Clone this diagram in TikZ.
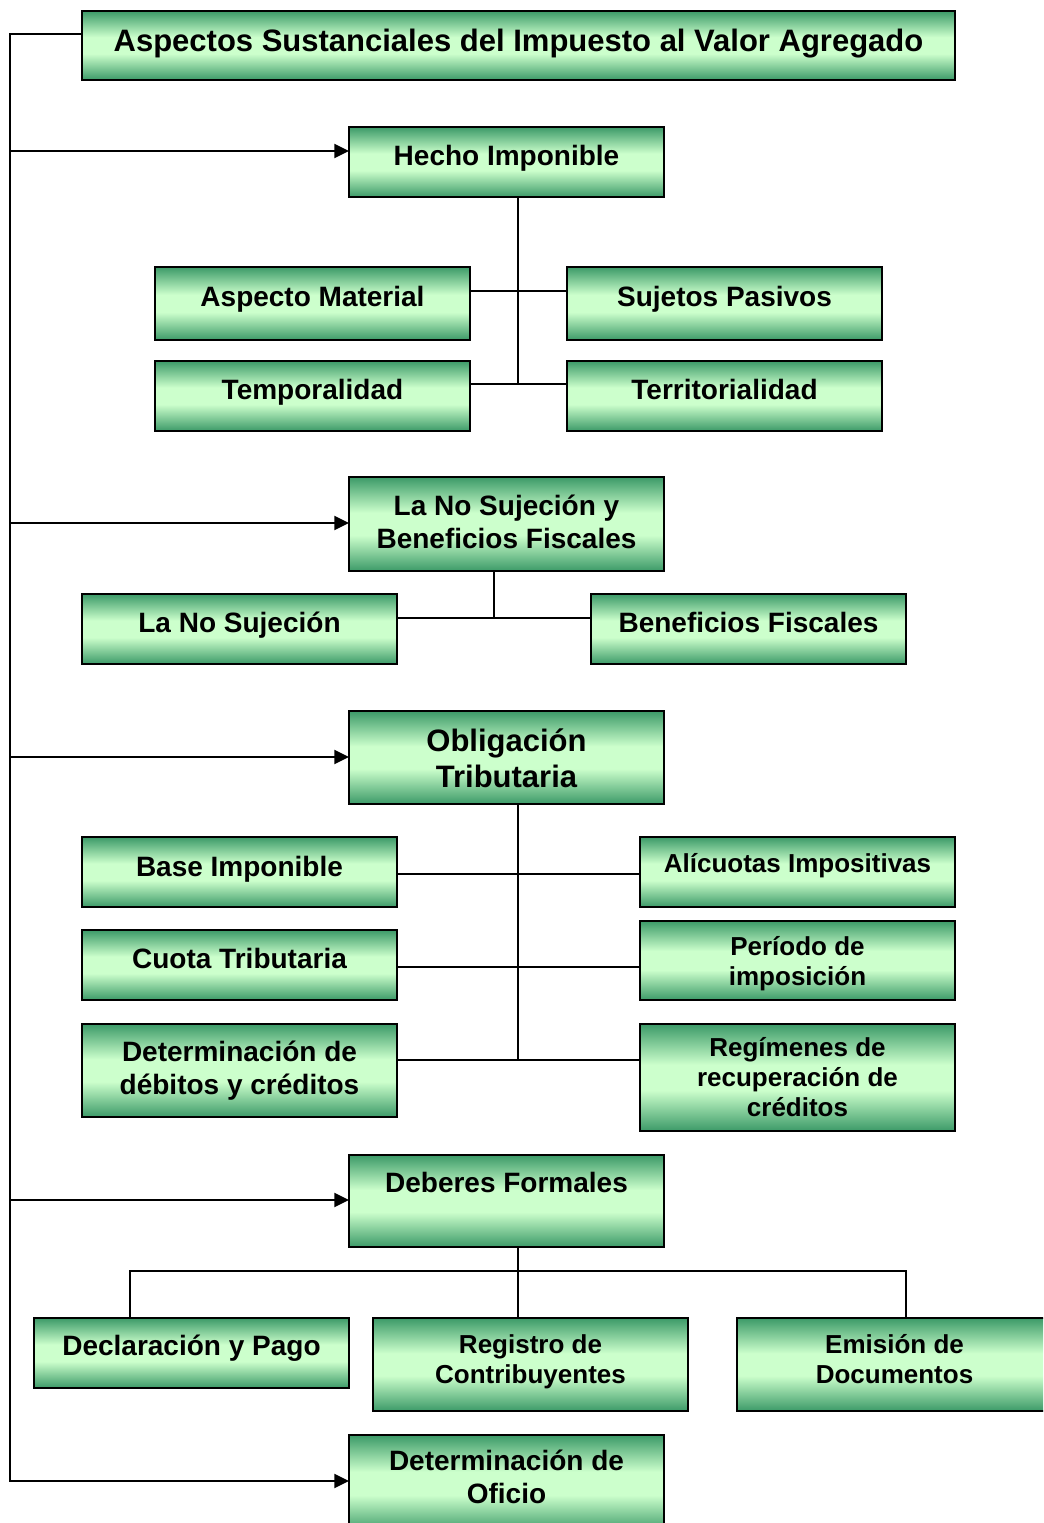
\documentclass[tikz,border=0pt]{standalone}
\usepackage{fontspec}
\setmainfont{Liberation Sans}
\usetikzlibrary{arrows.meta,fit}
\definecolor{gd}{RGB}{60,154,104}
\definecolor{gl}{RGB}{204,255,204}
\pgfdeclareverticalshading{boxshade}{100bp}{color(0bp)=(gd); color(25bp)=(gd); color(44bp)=(gl); color(56bp)=(gl); color(75bp)=(gd); color(100bp)=(gd)}
\begin{document}
\begin{tikzpicture}[x=0.75pt,y=-0.75pt,
  box/.style={draw=black, line width=1.5pt, shading=boxshade, inner sep=0pt, outer sep=0pt},
  ln/.style={line width=1.5pt},
  arr/.style={ln, -{Triangle[length=11pt,width=10.5pt]}},
  tA/.style={anchor=base, align=center, font=\fontsize{23.25}{27}\selectfont\bfseries},
  tB/.style={anchor=base, align=center, font=\fontsize{21}{24.75}\selectfont\bfseries},
  tC/.style={anchor=base, align=center, font=\fontsize{19.5}{22.5}\selectfont\bfseries}]
\useasboundingbox (0,0) rectangle (1043,1523);
\clip (0,0) rectangle (1043,1523);

% boxes
\node[box, fit={(82,11)(955,80)}] (title) {};
\node[box, fit={(349,127)(664,197)}] (hecho) {};
\node[box, fit={(155,267)(470,340)}] (aspecto) {};
\node[box, fit={(567,267)(882,340)}] (sujetos) {};
\node[box, fit={(155,361)(470,431)}] (temporal) {};
\node[box, fit={(567,361)(882,431)}] (territ) {};
\node[box, fit={(349,477)(664,571)}] (nosujbf) {};
\node[box, fit={(82,594)(397,664)}] (nosuj) {};
\node[box, fit={(591,594)(906,664)}] (benef) {};
\node[box, fit={(349,711)(664,804)}] (oblig) {};
\node[box, fit={(82,837)(397,907)}] (base) {};
\node[box, fit={(640,837)(955,907)}] (alic) {};
\node[box, fit={(82,930)(397,1000)}] (cuota) {};
\node[box, fit={(640,921)(955,1000)}] (periodo) {};
\node[box, fit={(82,1024)(397,1117)}] (detdc) {};
\node[box, fit={(640,1024)(955,1131)}] (regim) {};
\node[box, fit={(349,1155)(664,1247)}] (deberes) {};
\node[box, fit={(34,1318)(349,1388)}] (declar) {};
\node[box, fit={(373,1318)(688,1411)}] (registro) {};
\node[box, fit={(737,1318)(1052,1411)}] (emision) {};
\node[box, fit={(349,1435)(664,1532)}] (oficio) {};

% texts (base anchor = baseline of the last line)
\node[tA] (titleT) at (title.center |- 0,52) {Aspectos Sustanciales del Impuesto al Valor Agregado};
\node[tB] (hechoT) at (hecho.center |- 0,166) {Hecho Imponible};
\node[tB] (aspectoT) at (aspecto.center |- 0,306) {Aspecto Material};
\node[tB] (sujetosT) at (sujetos.center |- 0,306) {Sujetos Pasivos};
\node[tB] (temporalT) at (temporal.center |- 0,399) {Temporalidad};
\node[tB] (territT) at (territ.center |- 0,399) {Territorialidad};
\node[tB] (nosujbfT) at (nosujbf.center |- 0,548) {La No Sujeción y\\Beneficios Fiscales};
\node[tB] (nosujT) at (nosuj.center |- 0,632) {La No Sujeción};
\node[tB] (benefT) at (benef.center |- 0,632) {Beneficios Fiscales};
\node[tA] (obligT) at (oblig.center |- 0,787) {Obligación\\Tributaria};
\node[tB] (baseT) at (base.center |- 0,876) {Base Imponible};
\node[tC] (alicT) at (alic.center |- 0,872) {Alícuotas Impositivas};
\node[tB] (cuotaT) at (cuota.center |- 0,968) {Cuota Tributaria};
\node[tC] (periodoT) at (periodo.center |- 0,985) {Período de\\imposición};
\node[tB] (detdcT) at (detdc.center |- 0,1094) {Determinación de\\débitos y créditos};
\node[tC] (regimT) at (regim.center |- 0,1116) {Regímenes de\\recuperación de\\créditos};
\node[tB] (deberesT) at (deberes.center |- 0,1192) {Deberes Formales};
\node[tB] (declarT) at (declar.center |- 0,1355) {Declaración y Pago};
\node[tC] (registroT) at (registro.center |- 0,1383) {Registro de\\Contribuyentes};
\node[tC] (emisionT) at (emision.center |- 0,1383) {Emisión de\\Documentos};
\node[tB] (oficioT) at (oficio.center |- 0,1503) {Determinación de\\Oficio};

% spine
\coordinate (s0) at (10,34);
\coordinate (s1) at (10,151);
\coordinate (s2) at (10,523);
\coordinate (s3) at (10,757);
\coordinate (s4) at (10,1200);
\coordinate (s5) at (10,1481);
\draw[arr] (title.west |- s0) -- (s0) -- (s5) -- (s5 -| oficio.west);
\draw[arr] (s1) -- (s1 -| hecho.west);
\draw[arr] (s2) -- (s2 -| nosujbf.west);
\draw[arr] (s3) -- (s3 -| oblig.west);
\draw[arr] (s4) -- (s4 -| deberes.west);

% Hecho Imponible
\coordinate (c1) at (518,291);
\coordinate (c2) at (518,384);
\draw[ln] (c1 |- hecho.south) -- (c2);
\draw[ln] (aspecto.east |- c1) -- (sujetos.west |- c1);
\draw[ln] (temporal.east |- c2) -- (territ.west |- c2);

% No sujecion
\coordinate (c3) at (494,618);
\draw[ln] (c3 |- nosujbf.south) -- (c3);
\draw[ln] (nosuj.east |- c3) -- (benef.west |- c3);

% Obligacion
\coordinate (c4) at (518,874);
\coordinate (c5) at (518,967);
\coordinate (c6) at (518,1060);
\draw[ln] (c4 |- oblig.south) -- (c6);
\draw[ln] (base.east |- c4) -- (alic.west |- c4);
\draw[ln] (cuota.east |- c5) -- (periodo.west |- c5);
\draw[ln] (detdc.east |- c6) -- (regim.west |- c6);

% Deberes
\coordinate (c7) at (518,1271);
\coordinate (c8) at (130,1271);
\coordinate (c9) at (906,1271);
\draw[ln] (c7 |- deberes.south) -- (c7 |- registro.north);
\draw[ln] (c8 |- declar.north) -- (c8) -- (c9) -- (c9 |- emision.north);
\end{tikzpicture}
\end{document}
